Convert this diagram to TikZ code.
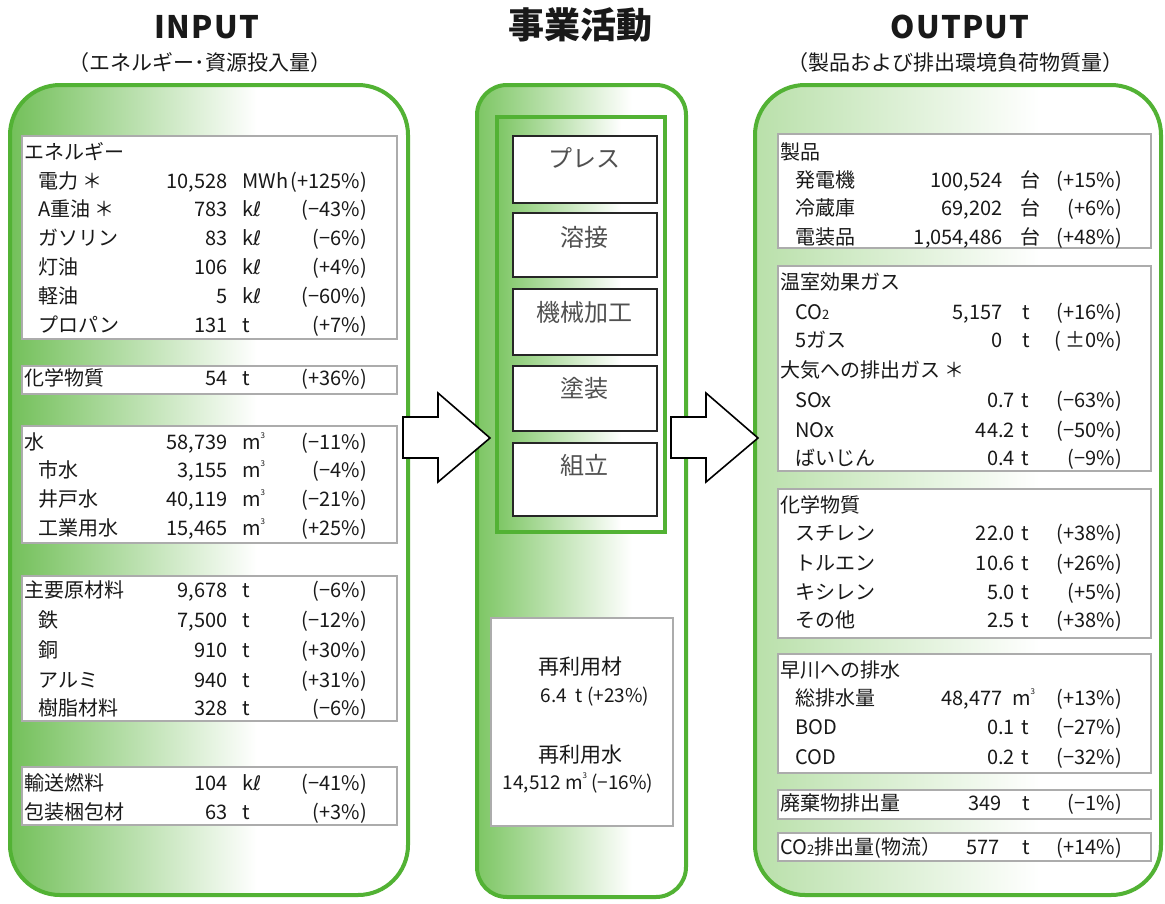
\documentclass[tikz,border=0pt]{standalone}
\usepackage{fontspec}
\setmainfont{Noto Sans CJK JP}
\newfontfamily\titlefont{Noto Sans CJK JP}[LetterSpace=4]
\newfontfamily\dvfont{DejaVu Sans}
\definecolor{gborder}{RGB}{82,178,52}
\definecolor{gfill}{RGB}{115,192,90}
\definecolor{gfillL}{RGB}{185,224,170}
\definecolor{gfillC}{RGB}{125,198,100}
\definecolor{boxgray}{RGB}{172,172,172}
\definecolor{txt}{RGB}{25,25,25}
\definecolor{ptxt}{RGB}{80,80,80}
\pgfdeclarehorizontalshading{shadeA}{100bp}{color(0bp)=(gfill); color(25bp)=(gfill); color(56bp)=(white); color(100bp)=(white)}
\pgfdeclarehorizontalshading{shadeB}{100bp}{color(0bp)=(gfillL); color(25bp)=(gfillL); color(60bp)=(white); color(100bp)=(white)}
\pgfdeclarehorizontalshading{shadeC}{100bp}{color(0bp)=(gfillC); color(25bp)=(gfillC); color(62bp)=(white); color(100bp)=(white)}
\newcommand\kl{k{\dvfont ℓ}}
\newcommand\mcube{m\raisebox{0.55em}{\fontsize{8}{8}\selectfont 3}}
\newcommand\cotwo{CO{\fontsize{13}{13}\selectfont 2}}
\newcommand\lrow[7]{%
  \node[tx,anchor=base west] (#1l) at (#2,{#3+7}) {#4};
  \node[tx,anchor=base east] (#1n) at (228,{#3+7}) {#5};
  \node[tx,anchor=base west] (#1u) at (242,{#3+7}) {#6};
  \node[tx,anchor=base east] (#1p) at (367,{#3+7}) {#7};}
\newcommand\rrow[9]{%
  \node[tx,anchor=base west] (#1l) at (#2,{#3+7}) {#4};
  \node[tx,anchor=base east] (#1n) at (#6,{#3+7}) {#5};
  \node[tx,anchor=base west] (#1u) at (#8,{#3+7}) {#7};
  \node[tx,anchor=base east] (#1p) at (1122,{#3+7}) {#9};}
\begin{document}
\begin{tikzpicture}[x=1pt,y=-1pt,
  tx/.style={inner sep=0pt,text=txt,font=\fontsize{20}{24}\selectfont},
  panelA/.style={draw=gborder,line width=4pt,shading=shadeA},
  panelB/.style={draw=gborder,line width=4pt,shading=shadeB},
  panelC/.style={draw=gborder,line width=4pt,shading=shadeC},
  wbox/.style={draw=boxgray,line width=2pt,fill=white,inner sep=0pt,anchor=north west},
  pbox/.style={draw=black!85,line width=1.5pt,fill=white,inner sep=0pt,anchor=north west,minimum width=144pt},
  ptext/.style={inner sep=0pt,text=ptxt,font=\fontsize{24}{28}\selectfont},
  blockarrow/.style={draw=black,line width=1.6pt,fill=white,line join=miter},
  title/.style={inner sep=0pt,text=txt,font=\titlefont\bfseries\fontsize{31}{36}\selectfont},
  subtitle/.style={inner sep=0pt,text=txt,font=\fontsize{21}{24}\selectfont}]
\useasboundingbox (0,0) rectangle (1165,903);
\fill[white] (0,0) rectangle (1165,903);

% titles
\node[title] (tin) at (207,27) {INPUT};
\node[subtitle] (sin) at (200,63) {（エネルギー･資源投入量）};
\node[title,font=\bfseries\fontsize{36}{40}\selectfont] (tmid) at (580,25) {事業活動};
\node[title] (tout) at (960,27) {OUTPUT};
\node[subtitle] (sout) at (955,63) {（製品および排出環境負荷物質量）};

% panels
\path[panelA,rounded corners=50pt] (10,85) rectangle (408,895);
\path[panelC,rounded corners=30pt] (477,85) rectangle (686,897);
\path[panelB,rounded corners=50pt] (755,85) rectangle (1161,895);

% ---------------- INPUT boxes
\node[wbox,minimum width=375pt,minimum height=203pt] (bEnergy) at (21,135) {};
\node[wbox,minimum width=375pt,minimum height=28pt] (bChem) at (21,365) {};
\node[wbox,minimum width=375pt,minimum height=117pt] (bWater) at (21,425) {};
\node[wbox,minimum width=375pt,minimum height=145pt] (bMat) at (21,575) {};
\node[wbox,minimum width=375pt,minimum height=58pt] (bTrans) at (21,766) {};

\node[tx,anchor=base west] (hEnergy) at (24,159) {エネルギー};
\lrow{e1}{38}{181}{電力 ＊}{10,528}{MWh}{(+125\%)}
\lrow{e2}{38}{209}{A重油 ＊}{783}{\kl}{(−43\%)}
\lrow{e3}{38}{238}{ガソリン}{83}{\kl}{(−6\%)}
\lrow{e4}{38}{267}{灯油}{106}{\kl}{(+4\%)}
\lrow{e5}{38}{296}{軽油}{5}{\kl}{(−60\%)}
\lrow{e6}{38}{325}{プロパン}{131}{t}{(+7\%)}
\lrow{c1}{24}{378}{化学物質}{54}{t}{(+36\%)}
\lrow{w0}{24}{442}{水}{58,739}{\mcube}{(−11\%)}
\lrow{w1}{38}{470}{市水}{3,155}{\mcube}{(−4\%)}
\lrow{w2}{38}{499}{井戸水}{40,119}{\mcube}{(−21\%)}
\lrow{w3}{38}{528}{工業用水}{15,465}{\mcube}{(+25\%)}
\lrow{m0}{24}{590}{主要原材料}{9,678}{t}{(−6\%)}
\lrow{m1}{38}{620}{鉄}{7,500}{t}{(−12\%)}
\lrow{m2}{38}{650}{銅}{910}{t}{(+30\%)}
\lrow{m3}{38}{680}{アルミ}{940}{t}{(+31\%)}
\lrow{m4}{38}{708}{樹脂材料}{328}{t}{(−6\%)}
\lrow{t1}{24}{783}{輸送燃料}{104}{\kl}{(−41\%)}
\lrow{t2}{24}{812}{包装梱包材}{63}{t}{(+3\%)}

% ---------------- centre
\path[panelC,line width=4pt] (497,117) rectangle (665,532);
\node[pbox,minimum height=67pt] (p1) at (512,135) {};
\node[pbox,minimum height=64pt] (p2) at (512,212) {};
\node[pbox,minimum height=66pt] (p3) at (512,288) {};
\node[pbox,minimum height=65pt] (p4) at (512,365) {};
\node[pbox,minimum height=73pt] (p5) at (512,442) {};
\node[ptext] (p1t) at ([yshift=-23pt]p1.north) {プレス};
\node[ptext] (p2t) at ([yshift=-25pt]p2.north) {溶接};
\node[ptext] (p3t) at ([yshift=-24pt]p3.north) {機械加工};
\node[ptext] (p4t) at ([yshift=-23pt]p4.north) {塗装};
\node[ptext] (p5t) at ([yshift=-23pt]p5.north) {組立};

\node[wbox,minimum width=182pt,minimum height=208pt] (bReuse) at (490,617) {};
\node[tx,font=\fontsize{21}{24}\selectfont] (r1) at (580,667) {再利用材};
\node[tx,font=\fontsize{19}{22}\selectfont] (r2) at (595,697) {6.4\ \ t (+23\%)};
\node[tx,font=\fontsize{21}{24}\selectfont] (r3) at (580,755) {再利用水};
\node[tx,font=\fontsize{19}{22}\selectfont] (r4) at (578,783) {14,512 \mcube\ (−16\%)};

% arrows
\draw[blockarrow] (403,417) -- (438,417) -- (438,393) -- (490,438) -- (438,482) -- (438,458) -- (403,458) -- cycle;
\draw[blockarrow] (671,417) -- (706,417) -- (706,393) -- (758,438) -- (706,482) -- (706,458) -- (671,458) -- cycle;

% ---------------- OUTPUT boxes
\node[wbox,minimum width=373pt,minimum height=114pt] (oProd) at (777,133) {};
\node[wbox,minimum width=373pt,minimum height=205pt] (oGas) at (777,265) {};
\node[wbox,minimum width=373pt,minimum height=149pt] (oChem) at (777,488) {};
\node[wbox,minimum width=373pt,minimum height=119pt] (oRiver) at (777,653) {};
\node[wbox,minimum width=373pt,minimum height=29pt] (oWaste) at (777,789) {};
\node[wbox,minimum width=373pt,minimum height=28pt] (oCO) at (777,832) {};

\node[tx,anchor=base west] (hProd) at (780,159) {製品};
\rrow{o1}{795}{180}{発電機}{100,524}{1003}{台}{1020}{(+15\%)}
\rrow{o2}{795}{208}{冷蔵庫}{69,202}{1003}{台}{1020}{(+6\%)}
\rrow{o3}{795}{237}{電装品}{1,054,486}{1003}{台}{1020}{(+48\%)}
\node[tx,anchor=base west] (hGas) at (780,289) {温室効果ガス};
\rrow{g1}{795}{312}{\cotwo}{5,157}{1003}{t}{1022}{(+16\%)}
\rrow{g2}{795}{340}{5ガス}{0}{1003}{t}{1022}{( ±0\%)}
\node[tx,anchor=base west] (hAir) at (780,377) {大気への排出ガス ＊};
\rrow{a1}{795}{400}{SOx}{0.7}{1015}{t}{1021}{(−63\%)}
\rrow{a2}{795}{430}{NOx}{44.2}{1015}{t}{1021}{(−50\%)}
\rrow{a3}{795}{458}{ばいじん}{0.4}{1015}{t}{1021}{(−9\%)}
\node[tx,anchor=base west] (hChem) at (780,512) {化学物質};
\rrow{h1}{795}{533}{スチレン}{22.0}{1015}{t}{1021}{(+38\%)}
\rrow{h2}{795}{563}{トルエン}{10.6}{1015}{t}{1021}{(+26\%)}
\rrow{h3}{795}{592}{キシレン}{5.0}{1015}{t}{1021}{(+5\%)}
\rrow{h4}{795}{620}{その他}{2.5}{1015}{t}{1021}{(+38\%)}
\node[tx,anchor=base west] (hRiver) at (780,677) {早川への排水};
\rrow{v1}{795}{698}{総排水量}{48,477}{1003}{\mcube}{1012}{(+13\%)}
\rrow{v2}{795}{727}{BOD}{0.1}{1015}{t}{1021}{(−27\%)}
\rrow{v3}{795}{757}{COD}{0.2}{1015}{t}{1021}{(−32\%)}
\rrow{x1}{780}{803}{廃棄物排出量}{349}{1002}{t}{1022}{(−1\%)}
\rrow{x2}{780}{847}{\cotwo 排出量(物流）}{577}{1000}{t}{1022}{(+14\%)}
\end{tikzpicture}
\end{document}
